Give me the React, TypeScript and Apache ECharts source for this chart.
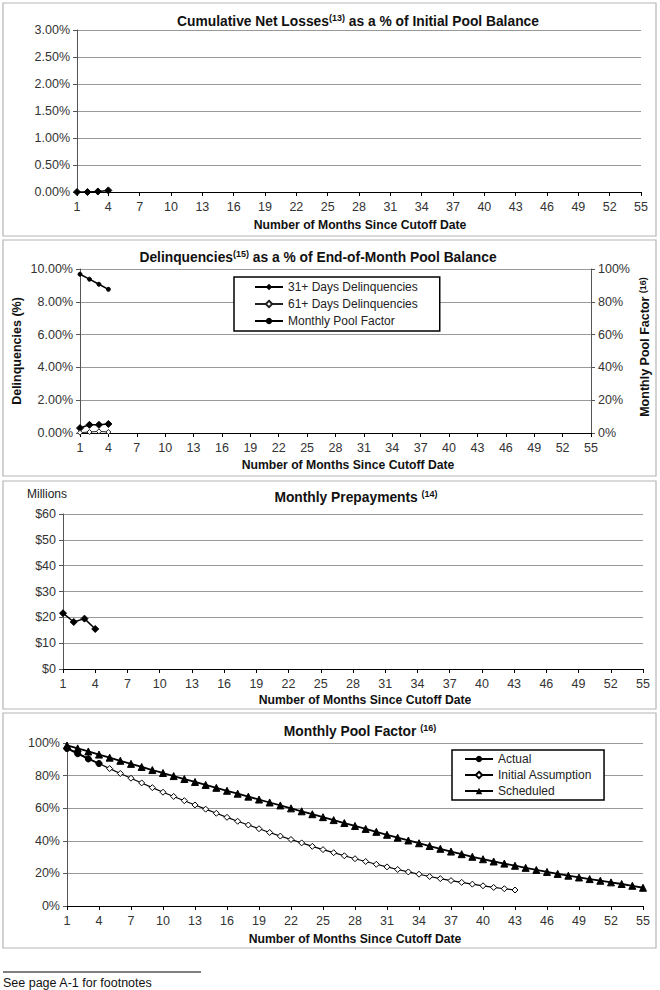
import React, { useEffect, useRef } from 'react';
import * as echarts from 'echarts';

const FONT = 'Liberation Sans, Arial, Helvetica, sans-serif';

const months = Array.from({ length: 55 }, (_, i) => String(i + 1));

const netLosses = [0.0, 0.0, 0.01, 0.03];

const delinq31 = [0.3, 0.5, 0.5, 0.55];
const delinq61 = [0.02, 0.06, 0.1, 0.06];
const poolFactorDelinq = [96.8, 93.8, 90.7, 87.6];

const prepayments = [21.6, 18.2, 19.5, 15.5];

const actualFactor = [96.6, 93.4, 90.2, 87.4];
const initialAssumption = [
  97.0, 93.8, 90.6, 87.4, 84.3, 81.3, 78.4, 75.5, 72.6, 69.8,
  67.2, 64.6, 62.0, 59.4, 56.9, 54.4, 52.0, 49.7, 47.4, 45.1,
  42.9, 40.8, 38.7, 36.6, 34.6, 32.7, 30.8, 29.0, 27.3, 25.6,
  24.0, 22.4, 20.9, 19.5, 18.1, 16.8, 15.6, 14.5, 13.4, 12.4,
  11.4, 10.6, 9.8,
];
const scheduled = [
  98.5, 96.7, 94.8, 92.9, 91.0, 89.1, 87.2, 85.3, 83.4, 81.6,
  79.7, 77.9, 76.1, 74.3, 72.5, 70.7, 68.9, 67.1, 65.3, 63.5,
  61.7, 59.9, 58.1, 56.3, 54.5, 52.7, 50.9, 49.1, 47.3, 45.5,
  43.7, 41.9, 40.2, 38.5, 36.8, 35.1, 33.4, 31.8, 30.2, 28.7,
  27.3, 26.0, 24.7, 23.4, 22.1, 20.9, 19.7, 18.6, 17.5, 16.5,
  15.5, 14.5, 13.5, 12.4, 11.2,
];

const titles = [
  { text: 'Cumulative Net Losses{sup|(13)} as a % of Initial Pool Balance', x: 358, y: 21 },
  { text: 'Delinquencies{sup|(15)} as a % of End-of-Month Pool Balance', x: 318, y: 257 },
  { text: 'Monthly Prepayments {sup|(14)}', x: 356, y: 497 },
  { text: 'Monthly Pool Factor {sup|(16)}', x: 360, y: 731 },
];
const xNames = [
  { x: 360, y: 225 },
  { x: 348, y: 465 },
  { x: 365, y: 700 },
  { x: 355, y: 939 },
];
const boxes = [
  { y: 3, h: 233 },
  { y: 240, h: 236 },
  { y: 481, h: 228 },
  { y: 713, h: 235 },
];
const grids = [
  { left: 77, right: 19, top: 30, height: 162 },
  { left: 80, right: 69, top: 269, height: 164 },
  { left: 63, right: 17, top: 514, height: 155 },
  { left: 67, right: 17, top: 743, height: 163 },
];

const supRich = {
  sup: { fontSize: 9, fontWeight: 'bold', fontFamily: FONT, verticalAlign: 'top', lineHeight: 9, fill: '#111' },
};

export default function App() {
  const ref = useRef<HTMLDivElement>(null);
  useEffect(() => {
    if (!ref.current) return;
    const chart = echarts.init(ref.current, undefined, { renderer: 'svg' });

    const xAxis = grids.map((_, i) => ({
      type: 'category',
      gridIndex: i,
      data: months,
      boundaryGap: false,
      axisLine: { lineStyle: { color: '#000', width: 1 } },
      axisTick: { interval: 2, length: 4, lineStyle: { color: '#000' } },
      axisLabel: { interval: 2, color: '#333', fontSize: 12.5, margin: 8, fontFamily: FONT },
      splitLine: { show: false },
    }));

    const yBase = (gridIndex: number, max: number, interval: number, fmt: (v: number) => string) => ({
      type: 'value',
      gridIndex,
      min: 0,
      max,
      interval,
      axisLine: { show: true, lineStyle: { color: '#555' } },
      axisTick: { show: true, length: 4, lineStyle: { color: '#555' } },
      axisLabel: { formatter: fmt, color: '#333', fontSize: 12.5, margin: 7, fontFamily: FONT },
      splitLine: { show: true, lineStyle: { color: '#999', width: 1 } },
    });

    const yAxis: any[] = [
      yBase(0, 3, 0.5, (v) => v.toFixed(2) + '%'),
      yBase(1, 10, 2, (v) => v.toFixed(2) + '%'),
      { ...yBase(1, 100, 20, (v) => v + '%'), position: 'right', splitLine: { show: false } },
      yBase(2, 60, 10, (v) => '$' + v),
      yBase(3, 100, 20, (v) => v + '%'),
    ];

    const lineStyle = { color: '#000', width: 1.5 };
    const blackItem = { color: '#000', borderColor: '#000' };
    const common = { type: 'line', showAllSymbol: true, showSymbol: true };

    const series: any[] = [
      {
        ...common, name: 'Cumulative Net Losses', xAxisIndex: 0, yAxisIndex: 0, data: netLosses,
        symbol: 'diamond', symbolSize: 7, lineStyle, itemStyle: blackItem,
      },
      {
        ...common, name: '31+ Days Delinquencies', xAxisIndex: 1, yAxisIndex: 1, data: delinq31,
        symbol: 'diamond', symbolSize: 7, lineStyle, itemStyle: blackItem,
      },
      {
        ...common, name: '61+ Days Delinquencies', xAxisIndex: 1, yAxisIndex: 1, data: delinq61,
        symbol: 'diamond', symbolSize: 5, lineStyle: { color: '#222', width: 1 },
        itemStyle: { color: '#fff', borderColor: '#222', borderWidth: 1 },
      },
      {
        ...common, name: 'Monthly Pool Factor', xAxisIndex: 1, yAxisIndex: 2, data: poolFactorDelinq,
        symbol: 'circle', symbolSize: 4, lineStyle, itemStyle: blackItem,
      },
      {
        ...common, name: 'Monthly Prepayments', xAxisIndex: 2, yAxisIndex: 3, data: prepayments,
        symbol: 'diamond', symbolSize: 7, lineStyle, itemStyle: blackItem,
      },
      {
        ...common, name: 'Actual', xAxisIndex: 3, yAxisIndex: 4, data: actualFactor,
        symbol: 'circle', symbolSize: 6, lineStyle, itemStyle: blackItem, z: 5,
      },
      {
        ...common, name: 'Initial Assumption', xAxisIndex: 3, yAxisIndex: 4, data: initialAssumption,
        symbol: 'diamond', symbolSize: 6, lineStyle: { color: '#000', width: 1.2 },
        itemStyle: { color: '#fff', borderColor: '#000', borderWidth: 1 },
      },
      {
        ...common, name: 'Scheduled', xAxisIndex: 3, yAxisIndex: 4, data: scheduled,
        symbol: 'triangle', symbolSize: 7, lineStyle: { color: '#000', width: 1.8 }, itemStyle: blackItem,
      },
    ];

    const legendCommon = {
      orient: 'vertical',
      borderColor: '#000',
      borderWidth: 1.5,
      backgroundColor: '#fff',
      itemWidth: 28,
      itemHeight: 8,
      textStyle: { color: '#222', fontSize: 12, fontFamily: FONT, lineHeight: 14 },
    };

    const graphic: any[] = [];
    boxes.forEach((b) => {
      graphic.push({
        type: 'rect', shape: { x: 3, y: b.y, width: 653, height: b.h },
        style: { fill: 'none', stroke: '#b5b5b5', lineWidth: 1.2 }, silent: true,
      });
    });
    titles.forEach((t) => {
      graphic.push({
        type: 'text', x: t.x, y: t.y,
        style: {
          text: t.text, rich: supRich, align: 'center', verticalAlign: 'middle',
          fontSize: 13.8, fontWeight: 'bold', fontFamily: FONT, fill: '#111', lineHeight: 16,
        },
      });
    });
    xNames.forEach((n) => {
      graphic.push({
        type: 'text', x: n.x, y: n.y,
        style: {
          text: 'Number of Months Since Cutoff Date', align: 'center', verticalAlign: 'middle',
          fontSize: 12.2, fontWeight: 'bold', fontFamily: FONT, fill: '#111',
        },
      });
    });
    graphic.push(
      {
        type: 'text', x: 17, y: 351, rotation: Math.PI / 2,
        style: {
          text: 'Delinquencies (%)', align: 'center', verticalAlign: 'middle',
          fontSize: 12.5, fontWeight: 'bold', fontFamily: FONT, fill: '#111',
        },
      },
      {
        type: 'text', x: 645, y: 347, rotation: Math.PI / 2,
        style: {
          text: 'Monthly Pool Factor {sup|(16)}', rich: supRich, align: 'center', verticalAlign: 'middle',
          fontSize: 12.5, fontWeight: 'bold', fontFamily: FONT, fill: '#111', lineHeight: 14,
        },
      },
      {
        type: 'text', x: 27, y: 494,
        style: { text: 'Millions', align: 'left', verticalAlign: 'middle', fontSize: 12, fontFamily: FONT, fill: '#222' },
      },
      {
        type: 'line', shape: { x1: 3, y1: 972, x2: 201, y2: 972 }, style: { stroke: '#000', lineWidth: 1 },
      },
      {
        type: 'text', x: 3, y: 983,
        style: { text: 'See page A-1 for footnotes', align: 'left', verticalAlign: 'middle', fontSize: 12.5, fontFamily: FONT, fill: '#111' },
      }
    );

    chart.setOption({
      animation: false,
      backgroundColor: '#fff',
      grid: grids.map((g) => ({ ...g })),
      xAxis,
      yAxis,
      series,
      legend: [
        {
          ...legendCommon,
          data: ['31+ Days Delinquencies', '61+ Days Delinquencies', 'Monthly Pool Factor'],
          left: 234, top: 277, padding: [3, 22, 3, 20], itemGap: 3,
        },
        {
          ...legendCommon,
          data: ['Actual', 'Initial Assumption', 'Scheduled'],
          left: 452, top: 750, padding: [2, 12, 2, 12], itemGap: 2,
        },
      ],
      graphic,
    });
    return () => chart.dispose();
  }, []);

  return (
    <div
      ref={ref}
      style={{ position: 'absolute', left: 0, top: 0, width: 660, height: 990, background: '#fff' }}
    />
  );
}
